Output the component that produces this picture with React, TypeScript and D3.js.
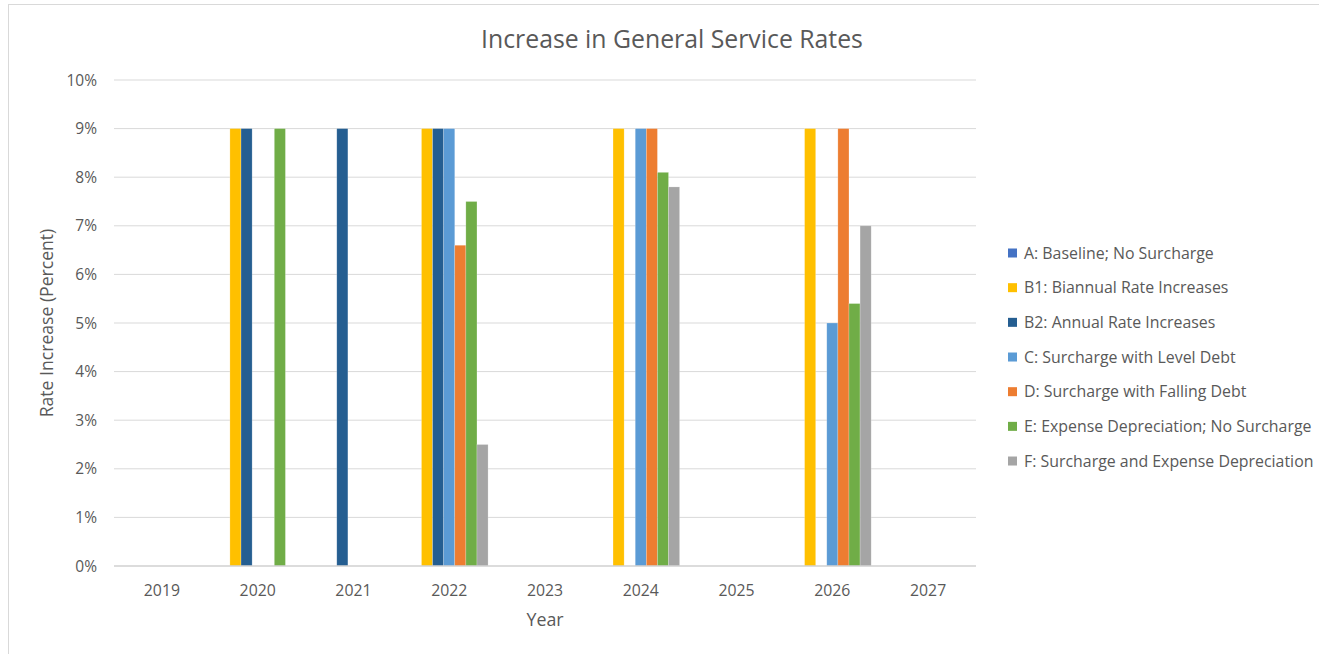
import React from "react";
import * as d3 from "d3";

const years = ["2019", "2020", "2021", "2022", "2023", "2024", "2025", "2026", "2027"];
const seriesNames = [
  "A: Baseline; No Surcharge",
  "B1: Biannual Rate Increases",
  "B2: Annual Rate Increases",
  "C: Surcharge with Level Debt",
  "D: Surcharge with Falling Debt",
  "E: Expense Depreciation; No Surcharge",
  "F: Surcharge and Expense Depreciation",
];
const seriesColors = ["#4472C4", "#FFC000", "#255E91", "#5B9BD5", "#ED7D31", "#70AD47", "#A5A5A5"];
const valuesA = [0, 0, 0, 0, 0, 0, 0, 0, 0];
const valuesB1 = [0, 9, 0, 9, 0, 9, 0, 9, 0];
const valuesB2 = [0, 9, 9, 9, 0, 0, 0, 0, 0];
const valuesC = [0, 0, 0, 9, 0, 9, 0, 5, 0];
const valuesD = [0, 0, 0, 6.6, 0, 9, 0, 9, 0];
const valuesE = [0, 9, 0, 7.5, 0, 8.1, 0, 5.4, 0];
const valuesF = [0, 0, 0, 2.5, 0, 7.8, 0, 7.0, 0];
const allValues = [valuesA, valuesB1, valuesB2, valuesC, valuesD, valuesE, valuesF];
const yTicks = [0, 1, 2, 3, 4, 5, 6, 7, 8, 9, 10];

const W = 1319;
const H = 654;
const left = 114, right = 976, top = 80, bottom = 566;
const FONT = "'Open Sans', 'Noto Sans', sans-serif";
const TXT = "#595959";

export default function App() {
  const x0 = d3.scaleBand<string>().domain(years).range([left, right]).padding(0);
  const x1 = d3
    .scaleBand<string>()
    .domain(seriesNames)
    .range([0, x0.bandwidth()])
    .paddingInner(0)
    .paddingOuter(0.815);
  const y = d3.scaleLinear().domain([0, 10]).range([bottom, top]);

  return (
    <svg
      width={W}
      height={H}
      style={{ position: "absolute", left: 0, top: 0, background: "#fff" }}
      fontFamily={FONT}
    >
      <rect x={8.5} y={4.5} width={W + 10} height={H + 10} fill="#fff" stroke="#D9D9D9" strokeWidth={1} />
      <text x={672} y={48} textAnchor="middle" fontSize={24.8} fill={TXT}>
        Increase in General Service Rates
      </text>
      {yTicks.map((t) => (
        <g key={t}>
          {t > 0 && (
            <line x1={left} x2={right} y1={y(t)} y2={y(t)} stroke="#D9D9D9" strokeWidth={1} />
          )}
          <text x={97} y={y(t) + 5.5} textAnchor="end" fontSize={15.5} fill={TXT}>
            {t}%
          </text>
        </g>
      ))}
      {allValues.map((vals, si) =>
        vals.map((v, ci) =>
          v > 0 ? (
            <rect
              key={`${si}-${ci}`}
              x={(x0(years[ci]) as number) + (x1(seriesNames[si]) as number)}
              y={y(v)}
              width={x1.bandwidth()}
              height={y(0) - y(v)}
              fill={seriesColors[si]}
              stroke="#fff"
              strokeOpacity={0.35}
              strokeWidth={0.6}
            />
          ) : null
        )
      )}
      <line x1={left} x2={right} y1={y(0)} y2={y(0)} stroke="#D0D0D0" strokeWidth={1.5} />
      {years.map((yr) => (
        <text
          key={yr}
          x={(x0(yr) as number) + x0.bandwidth() / 2}
          y={596}
          textAnchor="middle"
          fontSize={15.8}
          fill={TXT}
        >
          {yr}
        </text>
      ))}
      <text x={(left + right) / 2} y={626} textAnchor="middle" fontSize={17.8} fill={TXT}>
        Year
      </text>
      <text
        transform={`translate(53, ${(top + bottom) / 2}) rotate(-90)`}
        textAnchor="middle"
        fontSize={17.6}
        fill={TXT}
      >
        Rate Increase (Percent)
      </text>
      {seriesNames.map((name, i) => {
        const ly = 253 + i * 34.67;
        return (
          <g key={name}>
            <rect x={1008} y={ly - 4.5} width={9} height={9} fill={seriesColors[i]} />
            <text x={1024} y={ly + 5.5} fontSize={15.9} fill={TXT}>
              {name}
            </text>
          </g>
        );
      })}
    </svg>
  );
}
